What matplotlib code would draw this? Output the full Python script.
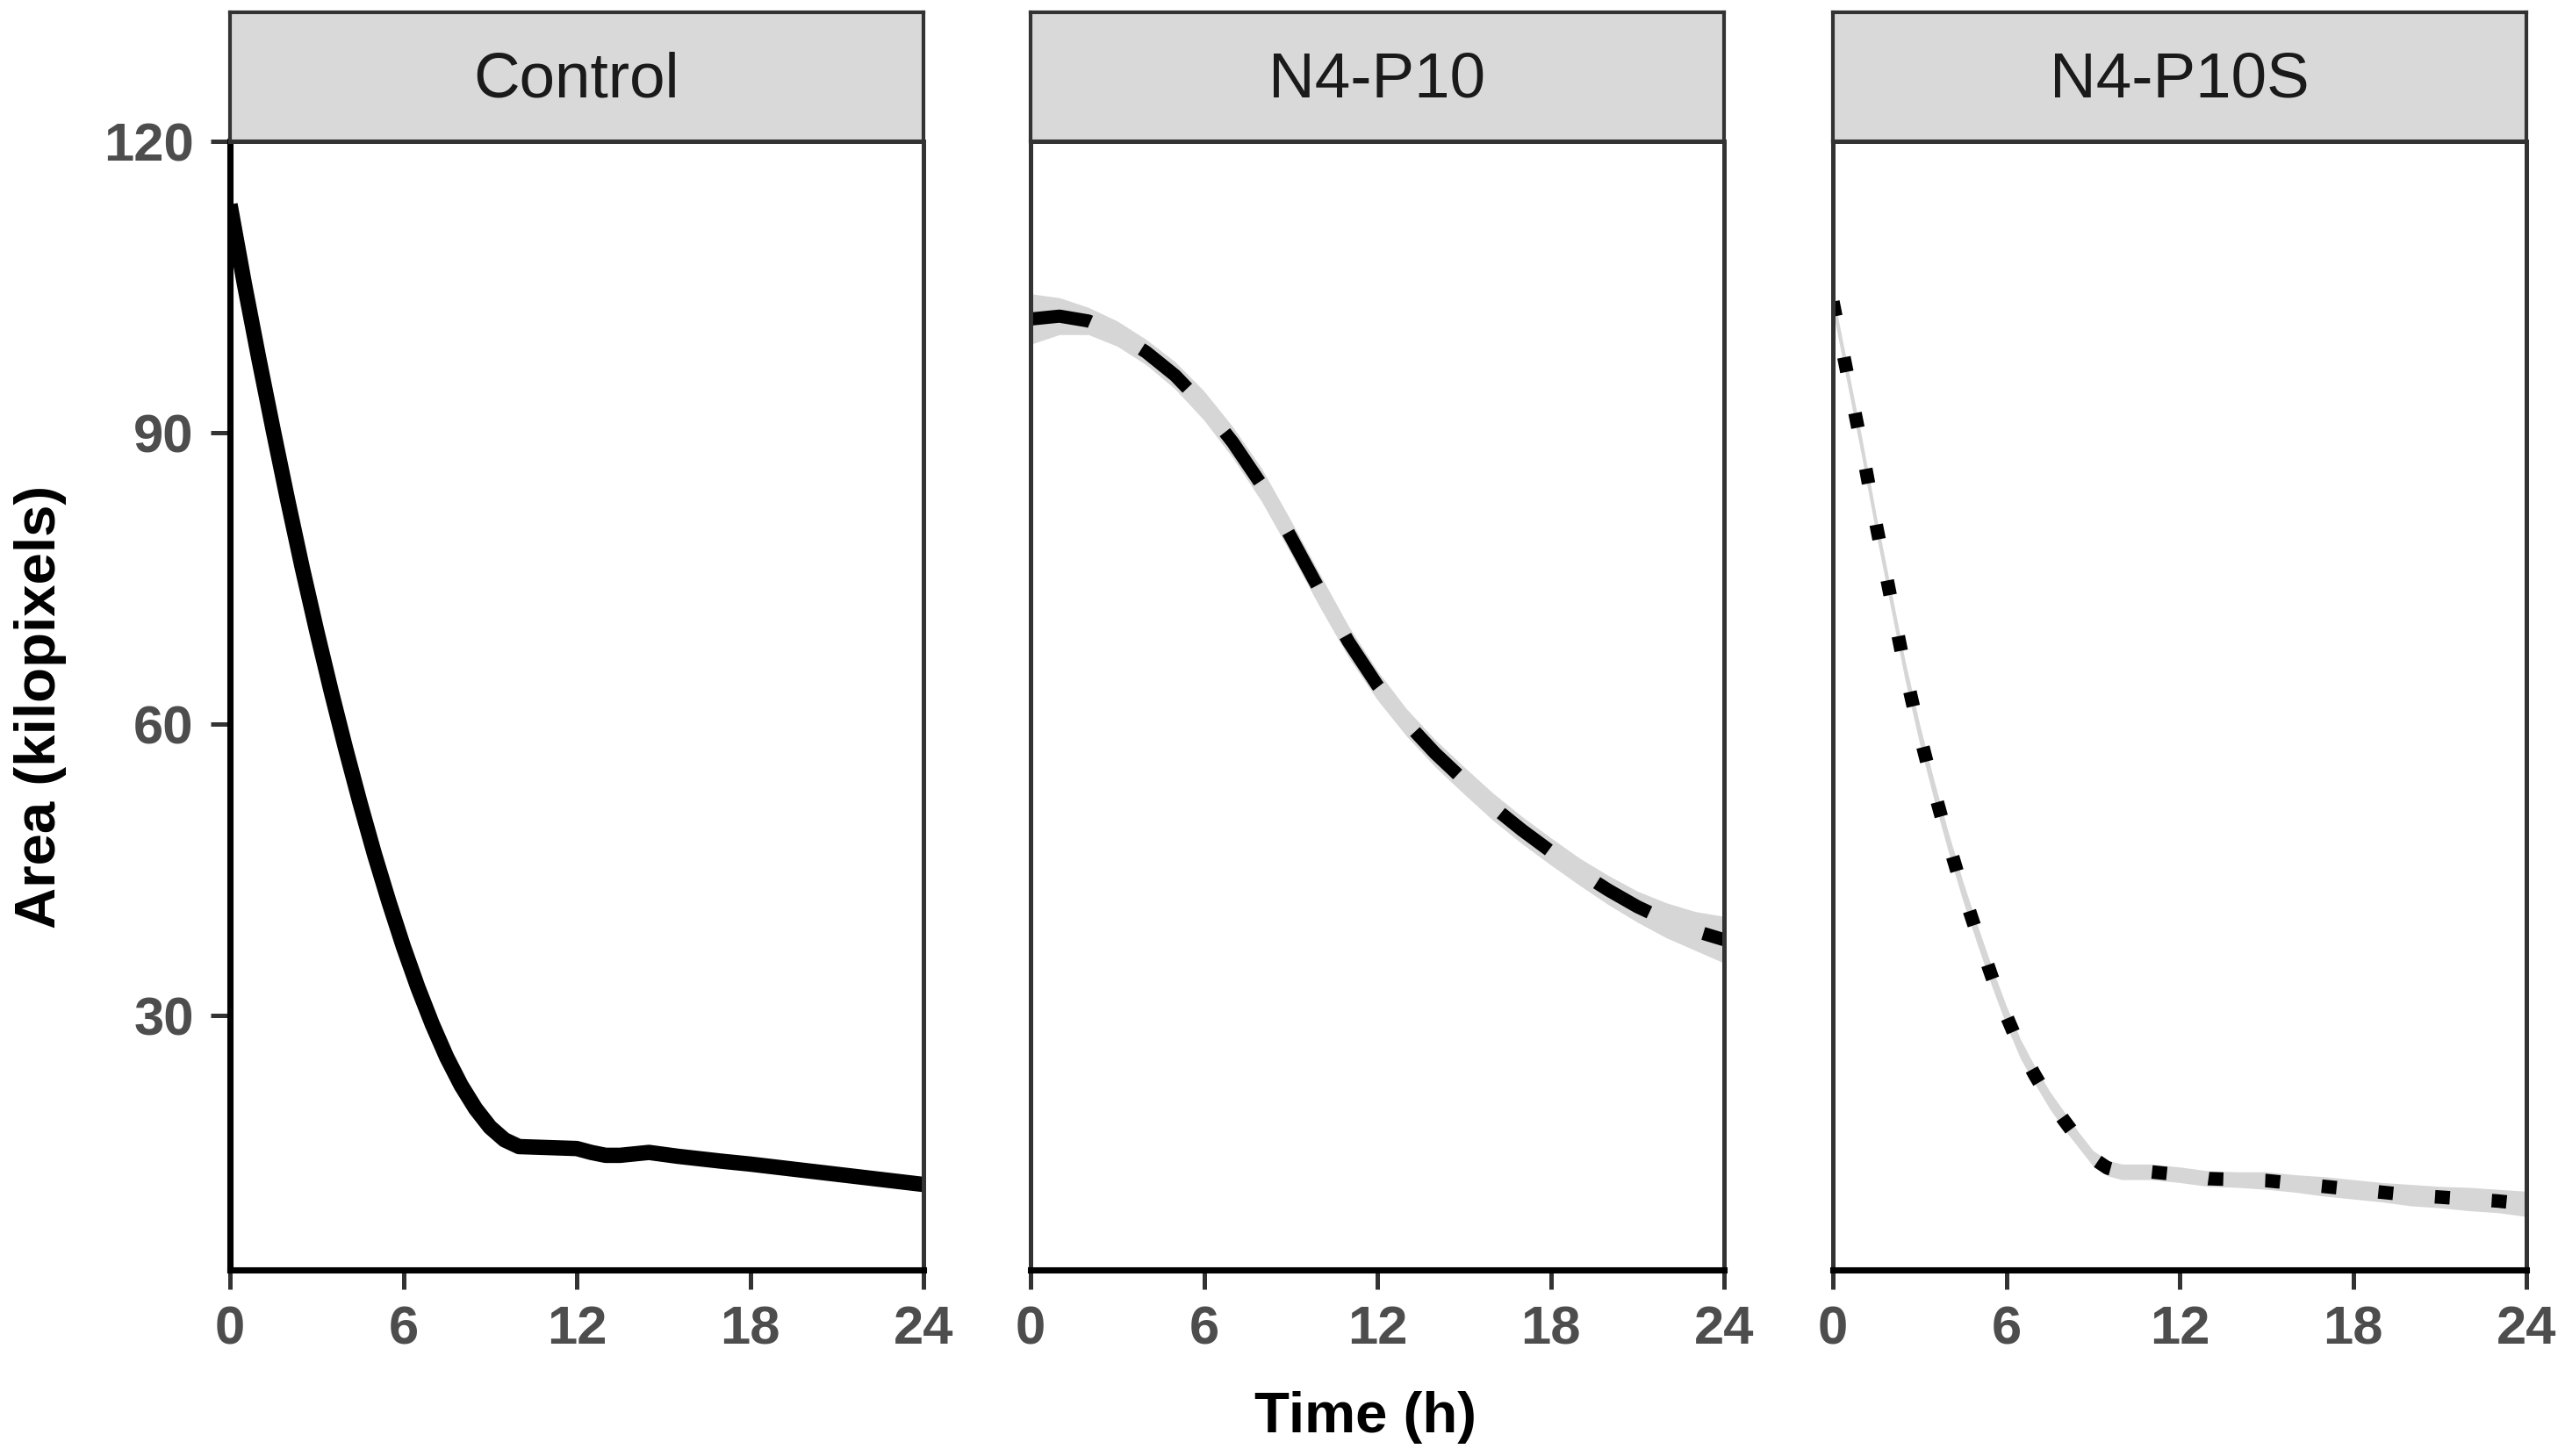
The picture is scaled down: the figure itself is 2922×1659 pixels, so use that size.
import matplotlib
matplotlib.use('Agg')
import matplotlib.pyplot as plt

plt.rcParams['font.family'] = ['Liberation Sans', 'DejaVu Sans']

# time points (h) and smoothed area (kilopixels)
control_t = [0, 0.5, 1, 1.5, 2, 2.5, 3, 3.5, 4, 4.5, 5, 5.5, 6, 6.5, 7, 7.5, 8, 8.5, 9, 9.5,
             10, 11, 12, 12.5, 13, 13.5, 14.5, 15.5, 17, 18, 20, 22, 24]
control_y = [113.5, 105.3, 97.6, 90.2, 83.0, 76.1, 69.6, 63.4, 57.5, 51.9, 46.6, 41.7, 37.1,
             32.9, 29.1, 25.7, 22.8, 20.4, 18.5, 17.2, 16.5, 16.4, 16.3, 15.9, 15.6, 15.6, 15.9,
             15.5, 15.0, 14.7, 14.0, 13.3, 12.6]
control_se = [0.5] * len(control_t)

p10_t = list(range(0, 25))
p10_y = [101.7, 102.0, 101.5, 100.2, 98.3, 95.9, 92.8, 89.0, 84.6, 79.3, 73.8, 68.5, 64.0,
         60.2, 57.0, 54.2, 51.5, 49.1, 46.9, 44.8, 42.9, 41.2, 39.8, 38.7, 37.8]
p10_se = [2.6, 1.9, 1.4, 1.3, 1.3, 1.4, 1.5, 1.6, 1.7, 1.7, 1.7, 1.6, 1.5, 1.4, 1.4, 1.4, 1.4,
          1.4, 1.4, 1.4, 1.5, 1.6, 1.8, 2.0, 2.4]

p10s_t = [0, 0.5, 1, 1.5, 2, 2.5, 3, 3.5, 4, 4.5, 5, 5.5, 6, 6.5, 7, 7.5, 8, 8.5, 9, 9.5, 10,
          11, 12, 13, 14, 15, 16, 17, 18, 19, 20, 21, 22, 23, 24]
p10s_y = [103.5, 96, 88.5, 80.5, 73, 65.5, 59, 53.2, 47.8, 42.8, 38.3, 34, 30, 26.5, 23.8, 21.3,
          19.2, 17.2, 15.3, 14.3, 13.9, 13.9, 13.6, 13.2, 13.1, 13, 12.7, 12.4, 12.1, 11.8, 11.5,
          11.3, 11.1, 10.9, 10.6]
p10s_se = [1.0, 1.0, 1.0, 1.0, 1.0, 1.0, 1.0, 1.0, 1.0, 1.0, 1.0, 1.0, 1.0, 1.0, 0.9, 0.9, 0.9,
           0.8, 0.8, 0.8, 0.8, 0.8, 0.8, 0.8, 0.8, 0.9, 0.9, 1.0, 1.0, 1.0, 1.1, 1.1, 1.2, 1.2, 1.3]

groups = ['Control', 'N4-P10', 'N4-P10S']
series = [(control_t, control_y, control_se), (p10_t, p10_y, p10_se), (p10s_t, p10s_y, p10s_se)]
styles = ['-', (0, (4.6, 4.4)), (0, (1.1, 3.1))]
widths = [4.2, 3.6, 3.7]

x_ticks = [0, 6, 12, 18, 24]
y_ticks = [30, 60, 90, 120]

W, H = 2922, 1659
fig = plt.figure(figsize=(W / 300, H / 300), dpi=300)

lefts = [262, 1174, 2088]
pw = 790
top, bottom = 161, 1447
strip_top = 14

for i, (name, (t, y, se), ls) in enumerate(zip(groups, series, styles)):
    ax = fig.add_axes([lefts[i] / W, 1 - bottom / H, pw / W, (bottom - top) / H])
    lo = [a - b for a, b in zip(y, se)]
    hi = [a + b for a, b in zip(y, se)]
    ax.fill_between(t, lo, hi, color='#d6d6d6', linewidth=0, zorder=1)
    ax.plot(t, y, color='black', lw=widths[i], linestyle=ls, dash_capstyle='butt',
            solid_capstyle='butt', solid_joinstyle='round', zorder=2)
    ax.set_xlim(0, 24)
    ax.set_ylim(3.8, 120)
    ax.set_xticks(x_ticks)
    ax.set_xticklabels([str(v) for v in x_ticks])
    ax.set_yticks(y_ticks)
    for s in ax.spines.values():
        s.set_color('#333333')
        s.set_linewidth(1.2)
    ax.spines['bottom'].set_color('black')
    ax.spines['bottom'].set_linewidth(1.7)
    ax.tick_params(axis='both', length=5.3, width=1.2, color='#333333',
                   labelsize=14.8, labelcolor='#4d4d4d')
    ax.tick_params(axis='x', pad=4.3)
    ax.tick_params(axis='y', pad=4.6)
    for lab in ax.get_xticklabels() + ax.get_yticklabels():
        lab.set_fontweight('bold')
    if i == 0:
        ax.spines['left'].set_color('black')
        ax.spines['left'].set_linewidth(1.7)
    else:
        ax.tick_params(axis='y', left=False, labelleft=False)

    sax = fig.add_axes([lefts[i] / W, 1 - top / H, pw / W, (top - strip_top) / H])
    sax.set_facecolor('#d9d9d9')
    sax.set_xticks([])
    sax.set_yticks([])
    for s in sax.spines.values():
        s.set_color('#333333')
        s.set_linewidth(1.0)
    sax.text(0.5, 0.47, name, ha='center', va='center', fontsize=17.5, color='#1a1a1a',
             transform=sax.transAxes)

fig.text(1555 / W, 1 - 1632 / H, 'Time (h)', ha='center', va='baseline',
         fontsize=15.7, fontweight='bold', color='black')
fig.text(46 / W, 1 - 805 / H, 'Area (kilopixels)', ha='center', va='center', rotation=90,
         fontsize=15.7, fontweight='bold', color='black')

fig.savefig('out.png', dpi=300, facecolor='white')
